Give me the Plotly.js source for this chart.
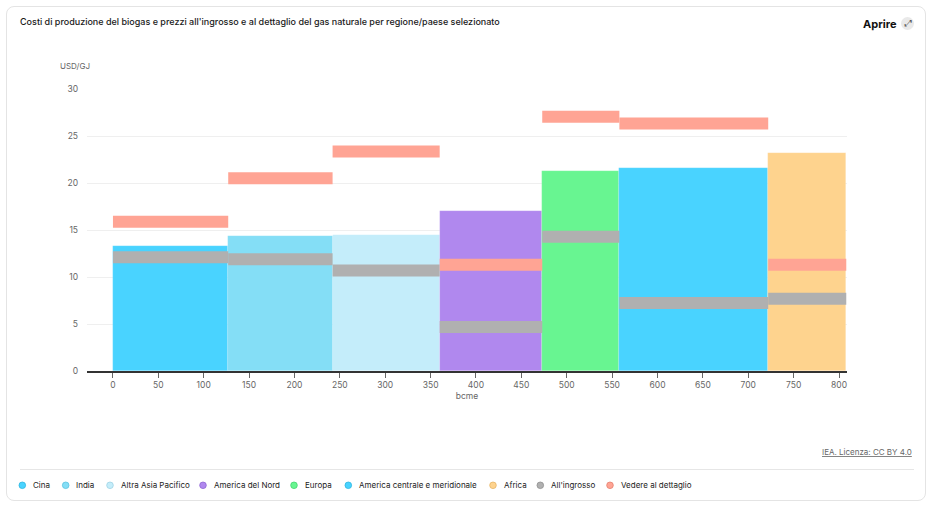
<!DOCTYPE html>
<html>
<head>
<meta charset="utf-8">
<script src="https://cdn.plot.ly/plotly-3.0.1.min.js"></script>
<style>
  html, body { margin: 0; padding: 0; background: #ffffff; }
  #card {
    position: absolute; left: 6px; top: 6px; width: 920px; height: 495px;
    border: 1px solid #e4e4e4; border-radius: 8px; box-sizing: border-box;
  }
  #chart { position: absolute; left: 0; top: 0; width: 935px; height: 523px; }
</style>
</head>
<body>
<div id="card"></div>
<div id="chart"></div>
<script>
// Regions ordered along the cumulative biogas supply axis (bcme)
const regions = ['Cina', 'India', 'Altra Asia Pacifico', 'America del Nord', 'Europa',
                 'America centrale e meridionale', 'Africa'];
const volumeStart = [0, 127, 242, 360, 473, 558, 722];
const volumeEnd   = [127, 242, 360, 473, 558, 722, 808];
// Biogas production cost, USD/GJ
const biogasCost  = [13.26, 14.33, 14.47, 17.03, 21.29, 21.64, 23.2];
// Natural gas prices, USD/GJ
const wholesalePrice = [12.1, 11.9, 10.68, 4.69, 14.29, 7.24, 7.68];
const retailPrice    = [15.88, 20.51, 23.35, 11.29, 27.05, 26.33, 11.29];
const regionColors = ['#49D3FF', '#84DEF6', '#C4EDFA', '#B088EE', '#68F591', '#49D3FF', '#FED38E'];
const wholesaleName = "All'ingrosso";
const retailName = 'Vedere al dettaglio';
const wholesaleColor = '#B0B0B0';
const retailColor = '#FFA494';
const xTicks = [0, 50, 100, 150, 200, 250, 300, 350, 400, 450, 500, 550, 600, 650, 700, 750, 800];
const yTicks = [0, 5, 10, 15, 20, 25, 30];

const FONT = 'Inter, "Open Sans", sans-serif';
const W = 935, H = 523;
const M = { l: 87, r: 88, t: 89, b: 152 };
const plotW = W - M.l - M.r, plotH = H - M.t - M.b;
const px = x => (x - M.l) / plotW;
const py = y => (H - M.b - y) / plotH;

// Variable-width columns: one per region
const regionBars = {
  type: 'bar',
  x: regions.map((_, i) => (volumeStart[i] + volumeEnd[i]) / 2),
  width: regions.map((_, i) => volumeEnd[i] - volumeStart[i]),
  y: biogasCost,
  customdata: regions,
  textposition: 'none',
  marker: { color: regionColors, line: { color: 'rgba(255,255,255,0.25)', width: 0.6 } },
  hovertemplate: '%{customdata}: %{y} USD/GJ<extra></extra>',
  showlegend: false
};

// Horizontal price bands spanning each region's column
function bandTrace(values, name, color) {
  const xs = [], ys = [];
  values.forEach((v, i) => {
    xs.push(volumeStart[i], volumeEnd[i], null);
    ys.push(v, v, null);
  });
  return {
    type: 'scatter', mode: 'lines', x: xs, y: ys, name: name,
    line: { color: color, width: 12 }, connectgaps: false, showlegend: false,
    hovertemplate: name + ': %{y} USD/GJ<extra></extra>'
  };
}

const traces = [
  regionBars,
  bandTrace(wholesalePrice, wholesaleName, wholesaleColor),
  bandTrace(retailPrice, retailName, retailColor)
];

// Legend row drawn beneath the chart
const legendNames = regions.concat([wholesaleName, retailName]);
const legendColors = regionColors.concat([wholesaleColor, retailColor]);
const legendBorder = ['#2fb6e0', '#5cc3df', '#9fd3e4', '#8f67d4', '#44d56f', '#2fb6e0', '#e7b565', '#8f8f8f', '#e5806e'];
const legendX = [22.3, 65.7, 110, 203, 294, 348.3, 493, 540.3, 610];
const legendY = 485.3;

const shapes = [
  // separator above the legend
  { type: 'line', xref: 'paper', yref: 'paper', x0: px(20), x1: px(914), y0: py(469.5), y1: py(469.5),
    line: { color: '#e6e6e6', width: 1 } },
  // round badge behind the expand icon
  { type: 'circle', xref: 'paper', yref: 'paper', xsizemode: 'pixel', ysizemode: 'pixel',
    xanchor: px(907.5), yanchor: py(23.5), x0: -6.5, x1: 6.5, y0: -6.5, y1: 6.5,
    fillcolor: '#e9e9e9', line: { width: 0 } }
];
const annotations = [
  { xref: 'paper', yref: 'paper', x: px(58), y: py(66), xanchor: 'left', yanchor: 'middle',
    text: 'USD/GJ', showarrow: false, font: { family: FONT, size: 8, color: '#666' } },
  { xref: 'paper', yref: 'paper', x: px(899), y: py(24), xanchor: 'right', yanchor: 'middle',
    text: '<b>Aprire</b>', showarrow: false, font: { family: FONT, size: 11, color: '#111' } },
  { xref: 'paper', yref: 'paper', x: px(907.5), y: py(23.5), xanchor: 'center', yanchor: 'middle',
    text: '⤢', showarrow: false, font: { family: 'DejaVu Sans', size: 9, color: '#555' } },
  { xref: 'paper', yref: 'paper', x: px(914), y: py(452.5), xanchor: 'right', yanchor: 'middle',
    text: '<span style="text-decoration:underline">IEA. Licenza: CC BY 4.0</span>', showarrow: false,
    font: { family: FONT, size: 8, color: '#666' } }
];
legendNames.forEach((name, i) => {
  shapes.push({ type: 'circle', xref: 'paper', yref: 'paper', xsizemode: 'pixel', ysizemode: 'pixel',
    xanchor: px(legendX[i]), yanchor: py(legendY), x0: -3.3, x1: 3.3, y0: -3.3, y1: 3.3,
    fillcolor: legendColors[i], line: { color: legendBorder[i], width: 0.8 } });
  annotations.push({ xref: 'paper', yref: 'paper', x: px(legendX[i] + 8.5), y: py(legendY),
    xanchor: 'left', yanchor: 'middle', text: name, showarrow: false,
    font: { family: FONT, size: 8, color: '#222' } });
});

const layout = {
  width: W, height: H,
  margin: M,
  paper_bgcolor: 'rgba(0,0,0,0)', plot_bgcolor: 'rgba(0,0,0,0)',
  font: { family: FONT, size: 8.5, color: '#666' },
  title: {
    text: "Costi di produzione del biogas e prezzi all'ingrosso e al dettaglio del gas naturale per regione/paese selezionato",
    x: 20 / W, xref: 'container', xanchor: 'left',
    y: 1 - 22 / H, yref: 'container', yanchor: 'middle',
    font: { family: FONT, size: 9, color: '#1a1a1a', weight: 500 }
  },
  barmode: 'overlay',
  bargap: 0,
  xaxis: {
    range: [-28.6, 808.8], tickvals: xTicks, ticktext: xTicks.map(String),
    showgrid: false, zeroline: false,
    showline: true, linecolor: '#333', linewidth: 1.5,
    ticks: 'outside', ticklen: 5, tickcolor: '#666', tickwidth: 1,
    tickfont: { family: FONT, size: 8.5, color: '#666' },
    title: { text: 'bcme', font: { family: FONT, size: 8.5, color: '#666' }, standoff: 4 },
    fixedrange: true
  },
  yaxis: {
    range: [0, 30], tickvals: yTicks, ticktext: yTicks.map(String),
    showgrid: true, gridcolor: '#efefef', gridwidth: 1,
    zeroline: false, showline: false, ticks: '', ticklabelstandoff: 8,
    tickfont: { family: FONT, size: 8.5, color: '#666' },
    fixedrange: true
  },
  shapes: shapes,
  annotations: annotations,
  showlegend: false
};

Plotly.newPlot('chart', traces, layout, { displayModeBar: false, responsive: false });
</script>
</body>
</html>
